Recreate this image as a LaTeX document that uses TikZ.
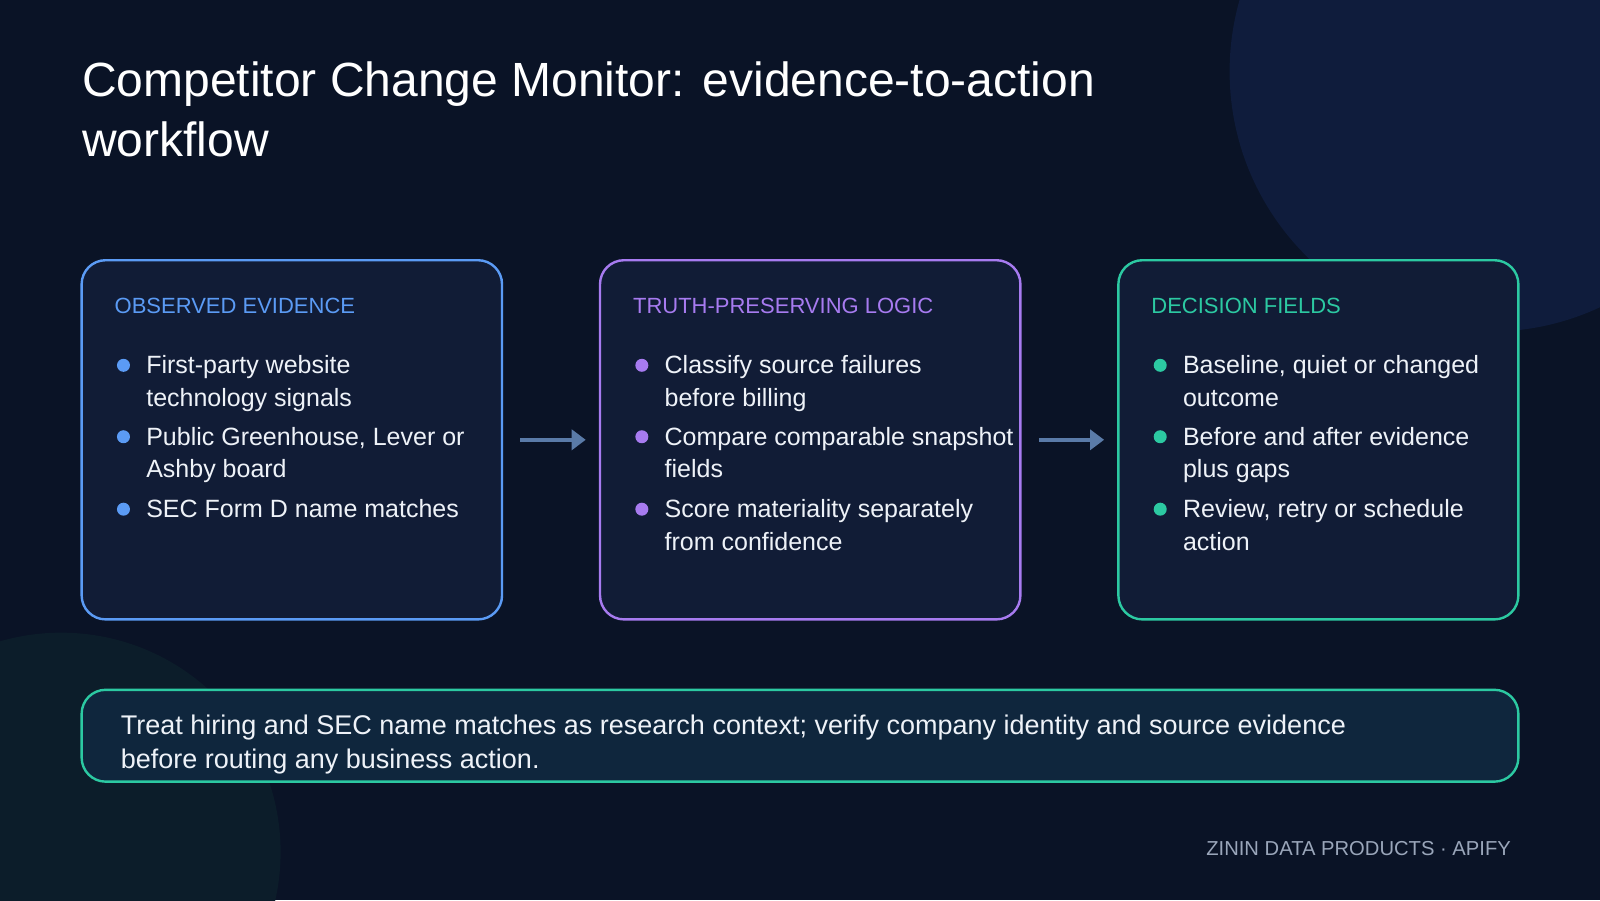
\documentclass[tikz,border=0pt]{standalone}
\usepackage{fontspec}
\setmainfont{Liberation Sans}
\usetikzlibrary{arrows.meta}
\definecolor{bg}{HTML}{0A1326}
\definecolor{boxfill}{HTML}{111C36}
\definecolor{cblue}{HTML}{5B9BF5}
\definecolor{cpurp}{HTML}{A77BF0}
\definecolor{cteal}{HTML}{2CC9A2}
\definecolor{txt}{HTML}{EEF2F8}
\definecolor{arr}{HTML}{5A7BA8}
\definecolor{foot}{HTML}{9AA6BA}
\definecolor{blob1}{HTML}{0F1C3C}
\definecolor{blob2}{HTML}{0C1D2A}
\begin{document}
\begin{tikzpicture}[x=0.5102pt,y=-0.5102pt,
  panel/.style={draw=#1,line width=1.2pt,fill=boxfill,rounded corners=12pt},
  head/.style={anchor=base west,inner sep=0pt,font=\fontsize{11}{12}\selectfont,text=#1},
  item/.style={anchor=north west,align=left,text=txt,font=\fontsize{12.5}{16.3}\selectfont,inner sep=0pt},
  dot/.style={circle,fill=#1,inner sep=0pt,minimum size=6.5pt},
  flow/.style={draw=arr,line width=2.2pt,-{Triangle[length=7pt,width=10pt]}}]
\fill[bg] (0,0) rectangle (1568,882);
\useasboundingbox (0,0) rectangle (1568,882);
\begin{scope}
\clip (0,0) rectangle (1568,882);
\fill[blob1] (1460,70) circle (255);
\fill[blob2] (60,835) circle (215);
\end{scope}
\node[anchor=north west,text=white,align=left,font=\fontsize{24}{30}\selectfont,inner sep=0pt] (title) at (80,60)
 {Competitor Change Monitor: evidence-to-action\\workflow};
\draw[panel=cblue] (80,255) rectangle (492,607);
\draw[panel=cpurp] (588,255) rectangle (1000,607);
\draw[panel=cteal] (1096,255) rectangle (1488,607);
\coordinate (a1s) at (510,431); \coordinate (a1e) at (574,431);
\coordinate (a2s) at (1018,431); \coordinate (a2e) at (1082,431);
\draw[flow] (a1s) -- (a1e);
\draw[flow] (a2s) -- (a2e);
\node[head=cblue] (h1) at (112,307) {OBSERVED EVIDENCE};
\node[head=cpurp] (h2) at (620,307) {TRUTH-PRESERVING LOGIC};
\node[head=cteal] (h3) at (1128,307) {DECISION FIELDS};
\foreach \y/\t [count=\i] in {348/{First-party website\\technology signals},418/{Public Greenhouse, Lever or\\Ashby board},489/{SEC Form D name matches}}{
  \node[dot=cblue] (d1\i) at (121,\y+10) {};
  \node[item] (t1\i) at (143,\y) {\t};}
\foreach \y/\t [count=\i] in {348/{Classify source failures\\before billing},418/{Compare comparable snapshot\\fields},489/{Score materiality separately\\from confidence}}{
  \node[dot=cpurp] (d2\i) at (629,\y+10) {};
  \node[item] (t2\i) at (651,\y) {\t};}
\foreach \y/\t [count=\i] in {348/{Baseline, quiet or changed\\outcome},418/{Before and after evidence\\plus gaps},489/{Review, retry or schedule\\action}}{
  \node[dot=cteal] (d3\i) at (1137,\y+10) {};
  \node[item] (t3\i) at (1159,\y) {\t};}
\draw[panel=cteal,fill=boxfill!90!teal] (80,676) rectangle (1488,766);
\node[item,font=\fontsize{13.5}{17}\selectfont] (note) at (118,700)
 {Treat hiring and SEC name matches as research context; verify company identity and source evidence\\before routing any business action.};
\node[anchor=base east,text=foot,font=\fontsize{10.1}{11}\selectfont,inner sep=0pt] (footer) at (1481,838) {ZININ DATA PRODUCTS · APIFY};
\end{tikzpicture}
\end{document}
